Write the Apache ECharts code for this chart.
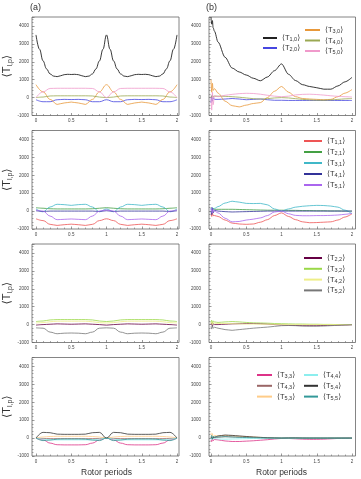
<!DOCTYPE html>
<html><head><meta charset="utf-8">
<script src="https://cdn.jsdelivr.net/npm/echarts@6/dist/echarts.min.js"></script>
<style>html,body{margin:0;padding:0;background:#fff}#c{width:361px;height:479px}</style>
</head><body><div id="c"></div>
<script>
// ---- x positions (rotor periods) ----
const xsFine = [0,0.05,0.1,0.15,0.2,0.25,0.3,0.35,0.4,0.45,0.5,0.55,0.6,0.65,0.7,0.75,0.8,0.85,0.9,0.95,1,1.05,1.1,1.15,1.2,1.25,1.3,1.35,1.4,1.45,1.5,1.55,1.6,1.65,1.7,1.75,1.8,1.85,1.9,1.95,2];
const xsCoarse = [0,0.1,0.2,0.3,0.4,0.5,0.6,0.7,0.8,0.9,1,1.1,1.2,1.3,1.4,1.5,1.6,1.7,1.8,1.9,2];
const xsR = [0,0.01,0.02,0.03,0.05,0.1,0.2,0.3,0.4,0.5,0.6,0.7,0.8,0.9,1,1.1,1.2,1.3,1.4,1.5,1.6,1.7,1.8,1.9,2];
const xTicks = [0,0.5,1,1.5,2];
const yTicks = [-1000,0,1000,2000,3000,4000];

// ---- panel (a) values ----
const L_T1_0 = [3500,2700,2050,1600,1320,1200,1170,1220,1280,1300,1290,1300,1280,1220,1170,1200,1320,1600,2050,2700,3500,2700,2050,1600,1320,1200,1170,1220,1280,1300,1290,1300,1280,1220,1170,1200,1320,1600,2050,2700,3500];
const L_T2_0 = [-120,-230,-230,-120,-100,-110,-100,-120,-230,-230,-120,-230,-230,-120,-100,-110,-100,-120,-230,-230,-120];
const L_T3_0 = [720,320,-100,-380,-300,-250,-300,-380,-100,320,720,320,-100,-380,-300,-250,-300,-380,-100,320,720];
const L_T4_0 = [0,30,90,100,100,100,100,100,90,30,0,30,90,100,100,100,100,100,90,30,0];
const L_T5_0 = [0,320,510,520,520,520,520,520,510,320,0,320,510,520,520,520,520,520,510,320,0];

const L_T1_1 = [-430,-530,-740,-800,-760,-730,-760,-800,-740,-530,-430,-530,-740,-800,-760,-730,-760,-800,-740,-530,-430];
const L_T2_1 = [190,160,130,120,120,120,120,120,130,160,190,160,130,120,120,120,120,120,130,160,190];
const L_T3_1 = [120,-40,230,380,360,320,360,380,230,-40,120,-40,230,380,360,320,360,380,230,-40,120];
const L_T4_1 = [20,-20,0,0,0,0,0,0,0,-20,20,-20,0,0,0,0,0,0,0,-20,20];
const L_T5_1 = [60,0,-280,-480,-460,-440,-460,-480,-280,0,60,0,-280,-480,-460,-440,-460,-480,-280,0,60];

const L_T2_2 = [-30,0,20,40,30,20,30,40,20,0,-30,0,20,40,30,20,30,40,20,0,-30];
const L_T3_2 = [170,200,260,280,280,280,280,280,260,200,170,200,260,280,280,280,280,280,260,200,170];
const L_T4_2 = [90,110,160,190,190,190,190,190,160,110,90,110,160,190,190,190,190,190,160,110,90];
const L_T5_2 = [-180,-200,-420,-510,-480,-470,-480,-510,-420,-200,-180,-200,-420,-510,-480,-470,-480,-510,-420,-200,-180];

const L_T3_3 = [0,-100,-280,-370,-380,-380,-380,-370,-280,-100,0,-100,-280,-370,-380,-380,-380,-370,-280,-100,0];
const L_T4_3 = [0,-20,-30,-30,-30,-30,-30,-30,-30,-20,0,-20,-30,-30,-30,-30,-30,-30,-30,-20,0];
const L_T5_3 = [0,60,90,100,100,100,100,100,90,60,0,60,90,100,100,100,100,100,90,60,0];
const L_T4_4 = [0,-60,-100,-100,-100,-100,-100,-100,-100,-60,0,-60,-100,-100,-100,-100,-100,-100,-100,-60,0];
const L_T5_4 = [0,320,300,220,210,210,210,220,300,320,0,320,300,220,210,210,210,220,300,320,0];
const L_T5_5 = [0,-140,-110,-60,-50,-50,-50,-60,-110,-140,0,-140,-110,-60,-50,-50,-50,-60,-110,-140,0];

// ---- panel (b) values ----
const R_T1_0 = [4500,4100,4300,3900,3700,3100,2250,1650,1430,1260,1080,940,1150,1500,1880,1300,950,720,620,550,470,470,650,880,1130];
const R_T2_0 = [-300,100,-200,0,-100,-100,-80,-50,-80,-120,-100,-80,-120,-150,-150,-160,-160,-160,-160,-160,-160,-160,-160,-160,-160];
const R_T3_0 = [1000,300,800,400,500,250,-200,-450,-520,-420,-330,-280,0,350,620,300,50,-50,-80,-100,-120,-100,50,250,450];
const R_T4_0 = [100,0,150,50,80,80,70,50,20,-20,-60,-80,-60,-20,0,-20,-60,-100,-130,-150,-150,-130,-100,-70,-50];
const R_T5_0 = [0,-700,300,-400,100,50,130,180,220,240,230,190,130,80,50,80,150,180,190,170,140,100,70,50,30];

const R_T1_1 = [-150,-300,-100,-250,-250,-300,-500,-670,-720,-740,-720,-620,-480,-250,-100,-300,-480,-600,-650,-640,-620,-600,-500,-330,-150];
const R_T2_1 = [100,200,50,150,100,100,100,100,90,80,70,60,50,50,50,40,40,30,30,20,20,10,10,0,0];
const R_T3_1 = [150,50,200,100,150,250,450,550,500,430,420,430,350,120,0,120,220,270,300,320,310,280,220,50,-150];
const R_T4_1 = [0,-200,150,-100,50,0,-30,-50,-40,-30,-20,-10,0,0,0,0,0,0,0,0,0,0,0,0,0];
const R_T5_1 = [0,200,-100,100,0,-100,-400,-600,-580,-500,-450,-380,-250,-50,0,-150,-240,-260,-260,-250,-250,-240,-220,-180,-120];

const R_T2_2 = [0,100,-100,50,0,0,20,40,50,60,60,50,30,0,-20,-40,-50,-60,-60,-60,-50,-40,-30,-20,-10];
const R_T3_2 = [100,250,50,200,150,120,150,170,150,120,100,90,80,60,50,40,30,30,20,20,10,10,0,0,0];
const R_T4_2 = [50,150,0,100,80,60,60,50,40,30,30,20,20,10,10,0,0,0,0,0,0,0,0,0,0];
const R_T5_2 = [-100,-250,-50,-200,-150,-200,-280,-320,-280,-240,-200,-170,-140,-100,-60,-50,-60,-80,-90,-90,-80,-60,-40,-20,0];

const R_T3_3 = [-100,-200,0,-150,-80,-100,-160,-190,-190,-170,-150,-120,-90,-50,-20,-20,-40,-60,-70,-70,-60,-40,-20,-10,0];
const R_T4_3 = [0,100,-50,50,20,50,80,70,60,50,40,30,20,10,0,0,10,10,0,0,-10,0,0,0,0];
const R_T5_3 = [300,100,250,50,150,120,150,130,100,80,60,40,20,10,0,0,0,0,0,0,0,0,0,0,0];
const R_T4_4 = [0,-100,50,-50,-30,-50,-60,-50,-40,-30,-20,-10,0,0,0,0,0,0,0,0,0,0,0,0,0];
const R_T5_4 = [0,50,-50,30,50,120,170,150,120,90,60,40,20,10,0,10,10,0,0,0,0,0,0,0,0];
const R_T5_5 = [50,150,-50,100,50,60,80,60,40,30,20,10,0,0,0,0,0,0,0,0,0,0,0,0,0];

const COLORS = {
  'T1,0':'#222222','T2,0':'#4646e0','T3,0':'#e8983a','T4,0':'#9aa852','T5,0':'#f09acb',
  'T1,1':'#ee5555','T2,1':'#44a044','T3,1':'#40b8c8','T4,1':'#333399','T5,1':'#aa66ee',
  'T2,2':'#660044','T3,2':'#9ad848','T4,2':'#eeee88','T5,2':'#777777',
  'T3,3':'#dd3388','T4,3':'#9a6666','T5,3':'#ffcc88','T4,4':'#8ceeee','T5,4':'#333333','T5,5':'#339999'
};

const seriesDefs = [
  [0,'T1,0',xsFine,L_T1_0],[0,'T2,0',xsCoarse,L_T2_0],[0,'T3,0',xsCoarse,L_T3_0],[0,'T4,0',xsCoarse,L_T4_0],[0,'T5,0',xsCoarse,L_T5_0],
  [2,'T1,1',xsCoarse,L_T1_1],[2,'T2,1',xsCoarse,L_T2_1],[2,'T3,1',xsCoarse,L_T3_1],[2,'T4,1',xsCoarse,L_T4_1],[2,'T5,1',xsCoarse,L_T5_1],
  [4,'T2,2',xsCoarse,L_T2_2],[4,'T3,2',xsCoarse,L_T3_2],[4,'T4,2',xsCoarse,L_T4_2],[4,'T5,2',xsCoarse,L_T5_2],
  [6,'T3,3',xsCoarse,L_T3_3],[6,'T4,3',xsCoarse,L_T4_3],[6,'T5,3',xsCoarse,L_T5_3],[6,'T4,4',xsCoarse,L_T4_4],[6,'T5,4',xsCoarse,L_T5_4],[6,'T5,5',xsCoarse,L_T5_5],
  [1,'T1,0',xsR,R_T1_0],[1,'T2,0',xsR,R_T2_0],[1,'T3,0',xsR,R_T3_0],[1,'T4,0',xsR,R_T4_0],[1,'T5,0',xsR,R_T5_0],
  [3,'T1,1',xsR,R_T1_1],[3,'T2,1',xsR,R_T2_1],[3,'T3,1',xsR,R_T3_1],[3,'T4,1',xsR,R_T4_1],[3,'T5,1',xsR,R_T5_1],
  [5,'T2,2',xsR,R_T2_2],[5,'T3,2',xsR,R_T3_2],[5,'T4,2',xsR,R_T4_2],[5,'T5,2',xsR,R_T5_2],
  [7,'T3,3',xsR,R_T3_3],[7,'T4,3',xsR,R_T4_3],[7,'T5,3',xsR,R_T5_3],[7,'T4,4',xsR,R_T4_4],[7,'T5,4',xsR,R_T5_4],[7,'T5,5',xsR,R_T5_5]
];

const FONT = 'Liberation Sans, Arial, DejaVu Sans, sans-serif';
const tops = [17, 130.5, 244, 357.5];
const H = 98.5;
const grids = [], xAxes = [], yAxes = [], graphics = [];
for (let r = 0; r < 4; r++) {
  for (let c = 0; c < 2; c++) {
    const i = r * 2 + c;
    const gl = c === 0 ? 36 : 211;
    grids.push({left: gl, top: tops[r], width: 141, height: H});
    xAxes.push({
      type: 'value', gridIndex: i, min: 0, max: 2, interval: 0.5, position: 'bottom',
      axisLine: {show: false, onZero: false},
      axisTick: {show: true, inside: true, length: 2.5, lineStyle: {color: '#555', width: 0.6}},
      minorTick: {show: true, splitNumber: 5, length: 1.5, lineStyle: {color: '#555', width: 0.5}},
      splitLine: {show: false},
      axisLabel: {fontSize: 4.5, color: '#444', margin: 3, fontFamily: FONT,
        formatter: v => xTicks.indexOf(v) >= 0 ? String(v) : ''},
      name: r === 3 ? 'Rotor periods' : '', nameLocation: 'middle', nameGap: 12,
      nameTextStyle: {fontSize: 8.5, color: '#333', fontFamily: FONT}
    });
    yAxes.push({
      type: 'value', gridIndex: i, min: -1000, max: 4500, interval: 1000, position: 'left',
      offset: c === 0 ? 4 : 2,
      axisLine: {show: false, onZero: false},
      axisTick: {show: true, inside: true, length: 2.5, lineStyle: {color: '#555', width: 0.6}},
      minorTick: {show: true, splitNumber: 5, length: 1.5, lineStyle: {color: '#555', width: 0.5}},
      splitLine: {show: false},
      axisLabel: {fontSize: 4.5, color: '#444', margin: c === 0 ? 3 : 8, fontFamily: FONT,
        showMaxLabel: false, formatter: v => yTicks.indexOf(v) >= 0 ? String(v) : ''},
      name: c === 0 ? '{a|⟨T}{s|l,p}{a|⟩}' : '', nameLocation: 'middle', nameGap: 12, nameRotate: 90,
      nameTextStyle: {color: '#333', fontFamily: FONT, rich: {
        a: {fontSize: 11, color: '#333', fontFamily: FONT, lineHeight: 13},
        s: {fontSize: 7, color: '#333', fontFamily: FONT, lineHeight: 7, verticalAlign: 'bottom'}
      }}
    });
    graphics.push({type: 'rect', z: 100, silent: true,
      shape: {x: c === 0 ? 32 : 209, y: tops[r], width: c === 0 ? 147 : 146.5, height: H},
      style: {fill: 'none', stroke: '#666', lineWidth: 0.8}});
  }
}
graphics.push({type: 'text', left: 30, top: 3, style: {text: '(a)', fontSize: 9, fill: '#333', fontFamily: FONT}});
graphics.push({type: 'text', left: 206, top: 3, style: {text: '(b)', fontSize: 9, fill: '#333', fontFamily: FONT}});

const series = seriesDefs.map(([p, name, xs, ys]) => ({
  type: 'line', name: name, xAxisIndex: p, yAxisIndex: p,
  data: xs.map((x, k) => [x, ys[k]]),
  showSymbol: false, symbol: 'none', smooth: p % 2 === 0 ? 0.4 : 0.3, smoothMonotone: 'x',
  itemStyle: {color: COLORS[name]},
  lineStyle: {color: COLORS[name], width: name === 'T1,0' ? 0.9 : 0.8},
  animation: false, silent: true
}));

const legendRich = {
  a: {fontSize: 7.5, color: '#333', fontFamily: FONT, lineHeight: 9},
  s: {fontSize: 5.5, color: '#333', fontFamily: FONT, lineHeight: 5, verticalAlign: 'bottom'}
};
function mkLegend(names, left, top, w, gap) {
  return {
    data: names, orient: 'vertical', left: left, top: top, padding: 0,
    itemWidth: w, itemHeight: 2, itemGap: gap, icon: 'rect', selectedMode: false,
    formatter: n => '{a|⟨T}{s|' + n.slice(1) + '}{a|⟩}',
    textStyle: {rich: legendRich, fontSize: 7.5, color: '#333'}
  };
}
const legends = [
  mkLegend(['T1,0','T2,0'], 263, 34, 14, 1.5),
  mkLegend(['T3,0','T4,0','T5,0'], 305, 26, 15, 2),
  mkLegend(['T1,1','T2,1','T3,1','T4,1','T5,1'], 304, 137, 18, 2.5),
  mkLegend(['T2,2','T3,2','T4,2','T5,2'], 304, 254, 18, 2.3),
  mkLegend(['T3,3','T4,3','T5,3'], 257, 371, 15, 2.3),
  mkLegend(['T4,4','T5,4','T5,5'], 304, 371, 14, 2.3)
];

const chart = echarts.init(document.getElementById('c'), null, {renderer: 'canvas'});
chart.setOption({
  animation: false, backgroundColor: '#fff',
  grid: grids, xAxis: xAxes, yAxis: yAxes, series: series, legend: legends, graphic: graphics
});
</script></body></html>
